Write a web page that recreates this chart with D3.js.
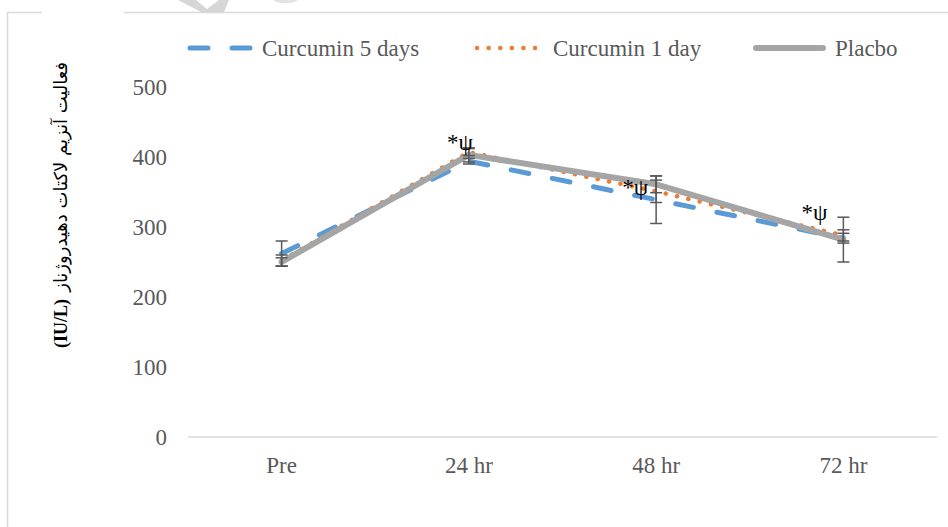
<!DOCTYPE html>
<html>
<head>
<meta charset="utf-8">
<script src="https://cdn.jsdelivr.net/npm/d3@7"></script>
<style>
body { margin: 0; background: #fff; }
</style>
</head>
<body>
<div id="chart"></div>
<script>
var categories = ["Pre", "24 hr", "48 hr", "72 hr"];
var yTicks = [0, 100, 200, 300, 400, 500];

var curcumin5 = [262, 394, 339, 284];
var curcumin5Err = [18, 4, 34, 7];
var curcumin1 = [252, 407, 351, 288];
var curcumin1Err = [8, 5, 16, 8];
var placebo = [250, 403, 361, 282];
var placeboErr = [6, 10, 12, 32];

var sigLabels = ["", "*\u03C8", "*\u03C8", "*\u03C8"];
var sigValues = [0, 410, 346, 310];

var seriesNames = ["Curcumin 5 days", "Curcumin 1 day", "Placbo"];
var yTitleFa = "فعالیت آنزیم لاکتات دهیدروژناز";
var yTitleUnit = "(IU/L)";

var width = 948, height = 527;
var font = "'Liberation Serif', 'Times New Roman', serif";

var x = d3.scaleBand().domain(categories).range([188, 937]);
var y = d3.scaleLinear().domain([0, 500]).range([437, 87]);

var series = [
  {name: seriesNames[0], values: curcumin5, err: curcumin5Err, color: "#5B9BD5", w: 5, dash: "18,24"},
  {name: seriesNames[1], values: curcumin1, err: curcumin1Err, color: "#ED7D31", w: 4.5, dash: "0.1,11.5"},
  {name: seriesNames[2], values: placebo, err: placeboErr, color: "#A5A5A5", w: 6, dash: null}
];

var svg = d3.select("#chart").append("svg")
  .attr("width", width)
  .attr("height", height)
  .style("display", "block");

// frame (runs off the page at right and bottom)
svg.append("path")
  .attr("d", "M7.5," + height + "V12.5H" + width)
  .attr("fill", "none")
  .attr("stroke", "#D9D9D9")
  .attr("stroke-width", 1.5);
svg.append("rect").attr("x", 42).attr("y", 8).attr("width", 82).attr("height", 8).attr("fill", "#fff");
// faint watermark bits at the top
svg.append("path")
  .attr("d", "M178,0H196L207,9L219,0H229L224,12H201Z")
  .attr("fill", "#D6D6D6");
svg.append("path")
  .attr("d", "M273,0A14,6 0 0 0 298,0Z")
  .attr("fill", "#E3E3E3");

// y axis labels
svg.append("g").selectAll("text")
  .data(yTicks)
  .enter().append("text")
  .attr("x", 167)
  .attr("y", function(d) { return y(d); })
  .attr("dy", "0.35em")
  .attr("text-anchor", "end")
  .style("font-family", font)
  .style("font-size", "23px")
  .attr("fill", "#595959")
  .text(function(d) { return d; });

// baseline
svg.append("line")
  .attr("x1", x.range()[0]).attr("x2", x.range()[1])
  .attr("y1", y(0)).attr("y2", y(0))
  .attr("stroke", "#D9D9D9")
  .attr("stroke-width", 1.5);

// x axis labels
svg.append("g").selectAll("text")
  .data(categories)
  .enter().append("text")
  .attr("x", function(d) { return x(d) + x.bandwidth() / 2; })
  .attr("y", 473)
  .attr("text-anchor", "middle")
  .style("font-family", font)
  .style("font-size", "23px")
  .attr("fill", "#595959")
  .text(function(d) { return d; });

// y axis title
var yt = svg.append("g").attr("transform", "translate(67,0) rotate(-90)");
yt.append("text")
  .attr("x", -62)
  .attr("y", 0)
  .attr("text-anchor", "end")
  .style("font-family", "'DejaVu Sans', sans-serif")
  .style("font-size", "18px")
  .attr("fill", "#000")
  .text(yTitleFa);
yt.append("text")
  .attr("x", -348)
  .attr("y", 0)
  .attr("text-anchor", "start")
  .style("font-family", font)
  .style("font-size", "18px")
  .style("font-weight", "bold")
  .attr("fill", "#000")
  .text(yTitleUnit);

// lines
var line = d3.line()
  .x(function(d, i) { return x(categories[i]) + x.bandwidth() / 2; })
  .y(function(d) { return y(d); });

series.forEach(function(s) {
  svg.append("path")
    .datum(s.values)
    .attr("d", line)
    .attr("fill", "none")
    .attr("stroke", s.color)
    .attr("stroke-width", s.w)
    .attr("stroke-linecap", "round")
    .attr("stroke-linejoin", "round")
    .attr("stroke-dasharray", s.dash);
});

// error bars
series.forEach(function(s) {
  var g = svg.append("g").attr("stroke", "#595959").attr("stroke-width", 1.5);
  s.values.forEach(function(v, i) {
    var cx = x(categories[i]) + x.bandwidth() / 2;
    var hi = y(v + s.err[i]), lo = y(v - s.err[i]);
    g.append("line").attr("x1", cx).attr("x2", cx).attr("y1", hi).attr("y2", lo);
    g.append("line").attr("x1", cx - 6).attr("x2", cx + 6).attr("y1", hi).attr("y2", hi);
    g.append("line").attr("x1", cx - 6).attr("x2", cx + 6).attr("y1", lo).attr("y2", lo);
  });
});

// significance marks
var sigShift = [0, 4, -8, -16];
svg.append("g").selectAll("text")
  .data(sigLabels)
  .enter().append("text")
  .attr("x", function(d, i) { return x(categories[i]) + x.bandwidth() / 2 + sigShift[i]; })
  .attr("y", function(d, i) { return y(sigValues[i]); })
  .attr("text-anchor", "end")
  .style("font-family", font)
  .style("font-size", "23px")
  .attr("fill", "#000")
  .text(function(d) { return d; });

// legend
var legendX = [188, 475, 754];
var legendLen = [64, 68, 71];
var legend = svg.append("g");
series.forEach(function(s, i) {
  legend.append("line")
    .attr("x1", legendX[i] + 2).attr("x2", legendX[i] + legendLen[i] - 2)
    .attr("y1", 48).attr("y2", 48)
    .attr("stroke", s.color)
    .attr("stroke-width", s.w)
    .attr("stroke-linecap", "round")
    .attr("stroke-dasharray", s.dash);
  legend.append("text")
    .attr("x", legendX[i] + legendLen[i] + 10)
    .attr("y", 48)
    .attr("dy", "0.35em")
    .style("font-family", font)
    .style("font-size", "23px")
    .attr("fill", "#595959")
    .text(s.name);
});
</script>
</body>
</html>
